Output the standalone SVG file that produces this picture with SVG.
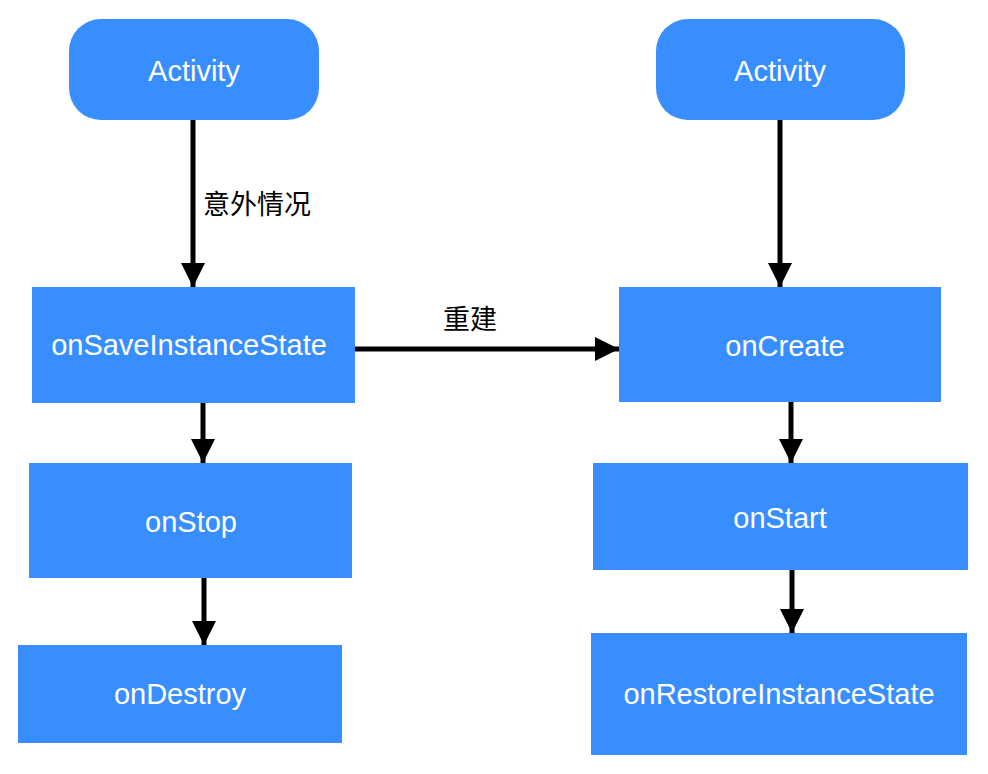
<svg xmlns="http://www.w3.org/2000/svg" width="988" height="774" viewBox="0 0 988 774">
<style>
.n{fill:#388EFF}
.t{fill:#fff;font-family:"Liberation Sans",Arial,sans-serif;font-size:29px;text-anchor:middle}
.l{fill:#000;font-family:"Noto Sans CJK SC","Liberation Sans",sans-serif;font-size:27px}
.e{stroke:#000;stroke-width:5;fill:none}
</style>
<defs>
<marker id="a" markerUnits="userSpaceOnUse" markerWidth="26" markerHeight="26" viewBox="0 0 26 26" refX="24" refY="13" orient="auto">
<path d="M0,1 L24,13 L0,25 Z" fill="#000"/>
</marker>
</defs>
<rect width="988" height="774" fill="#fff"/>
<g id="edges">
<line class="e" x1="193" y1="120" x2="193" y2="287" marker-end="url(#a)"/>
<line class="e" x1="203" y1="403" x2="203" y2="463" marker-end="url(#a)"/>
<line class="e" x1="204" y1="578" x2="204" y2="645" marker-end="url(#a)"/>
<line class="e" x1="780" y1="120" x2="780" y2="287" marker-end="url(#a)"/>
<line class="e" x1="791" y1="402" x2="791" y2="463" marker-end="url(#a)"/>
<line class="e" x1="792" y1="570" x2="792" y2="633" marker-end="url(#a)"/>
<line class="e" x1="355" y1="349" x2="619" y2="349" marker-end="url(#a)"/>
<text class="l" x="203" y="214">意外情况</text>
<text class="l" x="443" y="329">重建</text>
</g>
<g id="activity1"><rect class="n" x="69" y="19" width="250" height="101" rx="32"/><text class="t" x="194" y="81">Activity</text></g>
<g id="activity2"><rect class="n" x="656" y="19" width="249" height="101" rx="32"/><text class="t" x="780" y="81">Activity</text></g>
<g id="onSaveInstanceState"><rect class="n" x="32" y="287" width="323" height="116"/><text class="t" x="189" y="355">onSaveInstanceState</text></g>
<g id="onStop"><rect class="n" x="29" y="463" width="323" height="115"/><text class="t" x="191" y="532">onStop</text></g>
<g id="onDestroy"><rect class="n" x="18" y="645" width="324" height="98"/><text class="t" x="180" y="704">onDestroy</text></g>
<g id="onCreate"><rect class="n" x="619" y="287" width="322" height="115"/><text class="t" x="785" y="356">onCreate</text></g>
<g id="onStart"><rect class="n" x="593" y="463" width="375" height="107"/><text class="t" x="780" y="528">onStart</text></g>
<g id="onRestoreInstanceState"><rect class="n" x="591" y="633" width="376" height="122"/><text class="t" x="779" y="704">onRestoreInstanceState</text></g>
</svg>
